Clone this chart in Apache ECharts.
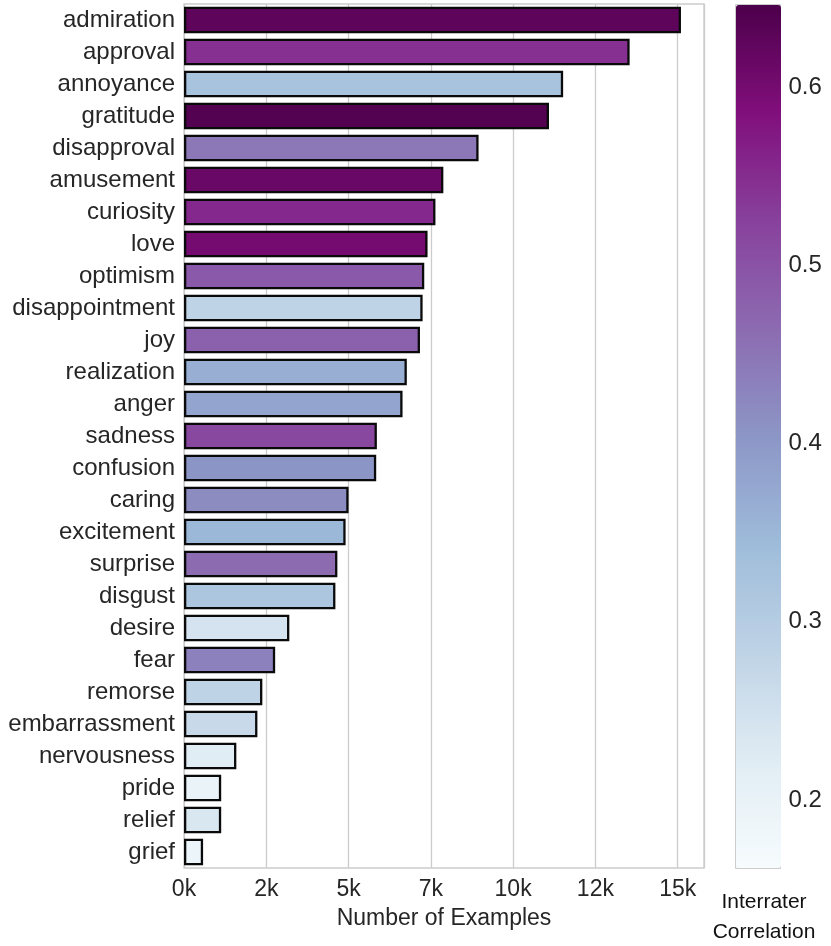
<!DOCTYPE html>
<html>
<head>
<meta charset="utf-8">
<title>Emotion categories</title>
<script src="https://cdn.jsdelivr.net/npm/echarts@6/dist/echarts.min.js"></script>
<style>
  html, body { margin: 0; padding: 0; background: #fff; }
  #main { width: 831px; height: 946px; }
</style>
</head>
<body>
<div id="main"></div>
<script type="text/javascript">
// emotion categories, top to bottom
var emotions = ['admiration', 'approval', 'annoyance', 'gratitude', 'disapproval',
  'amusement', 'curiosity', 'love', 'optimism', 'disappointment', 'joy',
  'realization', 'anger', 'sadness', 'confusion', 'caring', 'excitement',
  'surprise', 'disgust', 'desire', 'fear', 'remorse', 'embarrassment',
  'nervousness', 'pride', 'relief', 'grief'];

// number of examples per emotion
var counts = [15100, 13540, 11520, 11090, 8950,
  7880, 7640, 7400, 7300, 7250, 7170,
  6770, 6640, 5860, 5840, 5000, 4910,
  4660, 4600, 3200, 2770, 2380, 2230,
  1590, 1130, 1130, 580];

// interrater correlation
var correlation = [0.626, 0.545, 0.325, 0.640, 0.446,
  0.612, 0.555, 0.600, 0.49, 0.283, 0.48,
  0.364, 0.38, 0.515, 0.404, 0.418, 0.35,
  0.465, 0.317, 0.244, 0.434, 0.283, 0.266,
  0.22, 0.196, 0.235, 0.19];

// axis ticks
var countTicks = [0, 2500, 5000, 7500, 10000, 12500, 15000];
var corrTicks = [0.2, 0.3, 0.4, 0.5, 0.6];
var corrMin = 0.1616, corrMax = 0.6463;

// matplotlib BuPu
var buPu = ['#f7fcfd', '#e0ecf4', '#bfd3e6', '#9ebcda', '#8c96c6',
  '#8c6bb1', '#88419d', '#810f7c', '#4d004b'];

var rows = [];
for (var i = 0; i < emotions.length; i++) {
  rows.push([counts[i], emotions[i], correlation[i]]);
}

var font = 'Liberation Sans, Arial, sans-serif';
var textColor = '#262626';
var gridColor = '#cccccc';

var myChart = echarts.init(document.getElementById('main'));
var option = {
  animation: false,
  textStyle: { fontFamily: font },
  grid: [
    { left: 184, right: 127, top: 4, bottom: 78, show: true, outerBoundsMode: 'none',
      borderColor: gridColor, borderWidth: 1.3, backgroundColor: '#fff' },
    { left: 735.5, top: 4.5, width: 45, height: 864, show: true, outerBoundsMode: 'none',
      borderColor: gridColor, borderWidth: 1 }
  ],
  xAxis: [
    {
      gridIndex: 0,
      type: 'value',
      min: 0,
      max: 15800,
      interval: 2500,
      axisLine: { show: false },
      axisTick: { show: false },
      splitLine: { show: true, lineStyle: { color: gridColor, width: 1.3 } },
      axisLabel: {
        fontSize: 23, color: textColor, margin: 10,
        customValues: countTicks,
        formatter: function (v) { return Math.floor(v / 1000) + 'k'; }
      },
      name: 'Number of Examples',
      nameLocation: 'middle',
      nameGap: 39,
      nameTextStyle: { fontSize: 23, color: textColor }
    },
    {
      gridIndex: 1,
      type: 'value',
      min: 0,
      max: 1,
      axisLine: { show: false },
      axisTick: { show: false },
      axisLabel: { show: false },
      splitLine: { show: false },
      name: 'Interrater\nCorrelation',
      nameLocation: 'middle',
      nameGap: 19,
      nameTextStyle: { fontSize: 21, color: '#111', lineHeight: 30, padding: [0, 0, 0, 12] }
    }
  ],
  yAxis: [
    {
      gridIndex: 0,
      type: 'category',
      data: emotions,
      inverse: true,
      axisLine: { show: false },
      axisTick: { show: false },
      splitLine: { show: false },
      axisLabel: { fontSize: 24, color: textColor, margin: 9 }
    },
    {
      gridIndex: 1,
      type: 'value',
      position: 'right',
      min: corrMin,
      max: corrMax,
      axisLine: { show: false },
      axisTick: { show: false },
      splitLine: { show: false },
      axisLabel: {
        fontSize: 24, color: textColor, margin: 8,
        customValues: corrTicks,
        formatter: function (v) { return v.toFixed(1); }
      }
    }
  ],
  visualMap: {
    type: 'continuous',
    seriesIndex: 0,
    dimension: 2,
    min: corrMin,
    max: corrMax,
    orient: 'vertical',
    left: 736,
    top: 5,
    itemWidth: 45,
    itemHeight: 863,
    padding: 0,
    calculable: false,
    hoverLink: false,
    text: null,
    showLabel: false,
    inRange: { color: buPu }
  },
  series: [
    {
      type: 'bar',
      xAxisIndex: 0,
      yAxisIndex: 0,
      data: rows,
      encode: { x: 0, y: 1 },
      barWidth: '83%',
      itemStyle: { borderColor: '#0a0a0a', borderWidth: 2.3 }
    },
    {
      type: 'scatter',
      xAxisIndex: 1,
      yAxisIndex: 1,
      data: []
    }
  ]
};
myChart.setOption(option);
</script>
</body>
</html>
